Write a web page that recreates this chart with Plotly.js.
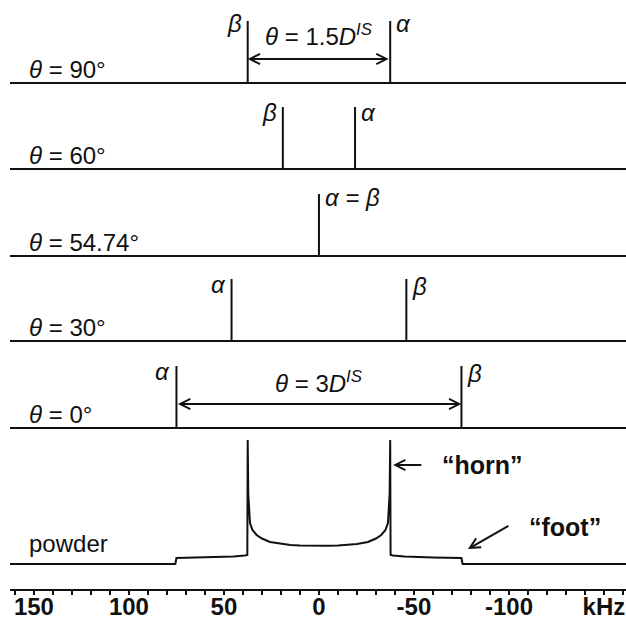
<!DOCTYPE html>
<html>
<head>
<meta charset="utf-8">
<script src="https://cdn.plot.ly/plotly-3.0.1.min.js"></script>
<style>
  html, body { margin: 0; padding: 0; background: #fff; }
  #chart { width: 626px; height: 619px; }
</style>
</head>
<body>
<div id="chart"></div>
<script>
// Single-crystal dipolar doublets for several orientations, plus the powder (Pake) pattern.
const angleLabels = ['90', '60', '54.74', '30', '0'];
const alphaKHz = [-37.5, -19, 0, 46, 75];
const betaKHz = [37.5, 19, 0, -46, -75];
const lineIntensity = [62, 62, 62, 62, 62];

// Powder pattern read point by point (kHz, intensity)
const powderKHz = [162.6, 75.6, 75, 60, 45, 39, 37.7, 37.5, 37.2, 36.3, 35, 32.8, 30, 25.8, 20, 15, 10, 5, 0,
                   -5, -10, -15, -20, -25.8, -30, -32.8, -35, -36.3, -37.2, -37.5, -37.7, -39, -45, -60, -75, -75.6, -161.6];
const powderInt = [0, 0, 6, 6.5, 7.5, 8.5, 9, 124, 70, 41, 34, 29, 25.5, 22, 20, 19, 18.5, 18.2, 18,
                   18.2, 18.5, 19, 20, 22, 25.5, 29, 34, 41, 70, 124, 9, 8.5, 7.5, 6.5, 6, 0, 0];

const xTickVals = [150, 100, 50, 0, -50, -100, -150];
const xTickText = ['150', '100', '50', '0', '-50', '-100', 'kHz'];

// layout constants
const X_RANGE = [162.6, -161.6];
const PANEL_BASE = [506, 420, 333, 248, 161, 25];
const INK = '#111';
const FONT = 'Liberation Sans, Arial, sans-serif';
const TEXT_SIZE = 24;

const traces = [];
angleLabels.forEach((a, i) => {
  const base = PANEL_BASE[i];
  const sticks = [alphaKHz[i], betaKHz[i]].sort((p, q) => q - p);
  const xs = [X_RANGE[0]];
  const ys = [base];
  sticks.forEach(p => { xs.push(p, p, p); ys.push(base, base + lineIntensity[i], base); });
  xs.push(X_RANGE[1]); ys.push(base);
  traces.push({
    x: xs, y: ys, type: 'scatter', mode: 'lines',
    line: { color: INK, width: 2 }, hoverinfo: 'skip', showlegend: false
  });
});
traces.push({
  x: powderKHz, y: powderInt.map(v => v + PANEL_BASE[5]),
  type: 'scatter', mode: 'lines', line: { color: INK, width: 2 },
  hoverinfo: 'skip', showlegend: false
});

const ann = [];
const txt = (text, x, y, opts) => Object.assign({
  text, x, y, xref: 'x', yref: 'y', showarrow: false,
  xanchor: 'left', yanchor: 'middle',
  font: { family: FONT, size: TEXT_SIZE, color: INK }
}, opts || {});

// orientation labels
angleLabels.forEach((a, i) => {
  ann.push(txt('<i>θ</i> = ' + a + '°', 153.7, PANEL_BASE[i] + 14));
});
ann.push(txt('powder', 153.7, PANEL_BASE[5] + 21));

// α / β tags beside the sticks
const greek = (label, pos, i, side, dy) => {
  const top = PANEL_BASE[i] + lineIntensity[i];
  return txt('<i>' + label + '</i>', pos, top - (dy || 3), {
    xanchor: side, xshift: side === 'left' ? 4 : -4
  });
};
ann.push(greek('β', betaKHz[0], 0, 'right', 2), greek('α', alphaKHz[0], 0, 'left', 2));
ann.push(greek('β', betaKHz[1], 1, 'right', 5), greek('α', alphaKHz[1], 1, 'left', 5));
ann.push(greek('α = β', alphaKHz[2], 2, 'left', 3));
ann.push(greek('α', alphaKHz[3], 3, 'right', 5), greek('β', betaKHz[3], 3, 'left', 7));
ann.push(greek('α', alphaKHz[4], 4, 'right', 5), greek('β', betaKHz[4], 4, 'left', 7));

// splitting labels and double arrows
ann.push(txt('<i>θ</i> = 1.5<i>D</i><sup><i>IS</i></sup>', 0, 554, { xanchor: 'center' }));
ann.push(txt('<i>θ</i> = 3<i>D</i><sup><i>IS</i></sup>', 0, 207, { xanchor: 'center' }));

const arrow = (x, y, ax, ay, both) => ({
  x, y, ax, ay, xref: 'x', yref: 'y', axref: 'x', ayref: 'y',
  text: '', showarrow: true, arrowhead: 5, startarrowhead: 5,
  arrowside: both ? 'end+start' : 'end', arrowsize: 1, startarrowsize: 1,
  arrowwidth: 2, arrowcolor: INK, standoff: 0, startstandoff: 0,
  font: { size: 1 }
});
ann.push(arrow(betaKHz[0], 530, alphaKHz[0], 530, true));
ann.push(arrow(betaKHz[4], 185, alphaKHz[4], 185, true));

// powder pattern callouts
const boldFont = { family: FONT, size: 25, color: INK, weight: 'bold' };
ann.push(arrow(-39, 124, -54.7, 124, false));
ann.push(txt('“horn”', -63.7, 124, { font: boldFont }));
ann.push(arrow(-78.4, 40, -100.5, 64, false));
ann.push(txt('“foot”', -109.5, 62, { font: boldFont }));

const layout = {
  width: 626, height: 619,
  margin: { l: 10, r: 0, t: 0, b: 30 },
  paper_bgcolor: '#fff', plot_bgcolor: '#fff',
  showlegend: false,
  xaxis: {
    range: X_RANGE, showgrid: false, zeroline: false,
    showline: true, linecolor: INK, linewidth: 2,
    ticks: 'outside', ticklen: 4, tickwidth: 2, tickcolor: INK,
    ticklabelstandoff: -9,
    tickvals: xTickVals, ticktext: xTickText,
    tickfont: { family: FONT, size: 24, color: INK, weight: 'bold' },
    minor: { dtick: 10, tick0: 0, ticks: 'outside', ticklen: 4, tickwidth: 2, tickcolor: INK },
    fixedrange: true
  },
  yaxis: {
    range: [0, 589], visible: false, showgrid: false, zeroline: false, fixedrange: true
  },
  annotations: ann
};

Plotly.newPlot('chart', traces, layout, { staticPlot: true, displayModeBar: false });
</script>
</body>
</html>
